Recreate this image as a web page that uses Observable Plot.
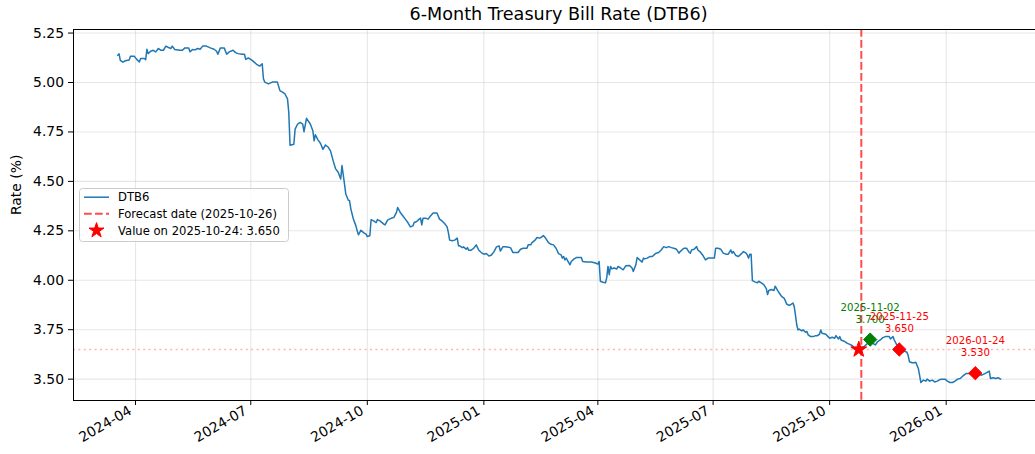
<!DOCTYPE html>
<html>
<head>
<meta charset="utf-8">
<script src="https://cdn.jsdelivr.net/npm/d3@7"></script>
<script src="https://cdn.jsdelivr.net/npm/@observablehq/plot@0.6"></script>
<style>
html, body { margin: 0; padding: 0; background: #fff; overflow: hidden; }
#wrap { position: relative; width: 1035px; height: 454px; font-family: "DejaVu Sans", sans-serif; }
#legend { position: absolute; left: 78.5px; top: 187.5px; }
</style>
</head>
<body>
<div id="wrap"></div>
<script>
// ---------- data ----------
const chartTitle = "6-Month Treasury Bill Rate (DTB6)";
const yLabel = "Rate (%)";
const seriesName = "DTB6";

const dtb6Series = [
["2024-03-18",5.138],["2024-03-19",5.145],["2024-03-20",5.112],["2024-03-22",5.103],["2024-03-24",5.110],
["2024-03-27",5.114],["2024-03-28",5.133],["2024-03-31",5.133],["2024-04-02",5.117],["2024-04-04",5.104],
["2024-04-05",5.121],["2024-04-08",5.121],["2024-04-09",5.115],["2024-04-10",5.168],["2024-04-11",5.146],
["2024-04-13",5.158],["2024-04-15",5.163],["2024-04-17",5.155],["2024-04-19",5.172],["2024-04-21",5.163],
["2024-04-23",5.163],["2024-04-25",5.184],["2024-04-27",5.177],["2024-04-29",5.172],["2024-04-30",5.184],
["2024-05-02",5.167],["2024-05-06",5.163],["2024-05-08",5.163],["2024-05-10",5.175],["2024-05-13",5.175],
["2024-05-14",5.155],["2024-05-16",5.167],["2024-05-18",5.165],["2024-05-20",5.172],["2024-05-22",5.168],
["2024-05-24",5.184],["2024-05-27",5.184],["2024-05-30",5.175],["2024-06-02",5.168],["2024-06-04",5.158],
["2024-06-05",5.143],["2024-06-07",5.175],["2024-06-10",5.175],["2024-06-12",5.143],["2024-06-14",5.155],
["2024-06-17",5.163],["2024-06-19",5.151],["2024-06-21",5.146],["2024-06-24",5.143],["2024-06-26",5.143],
["2024-06-27",5.117],["2024-06-29",5.124],["2024-07-01",5.117],["2024-07-03",5.107],["2024-07-06",5.090],
["2024-07-08",5.083],["2024-07-10",5.095],["2024-07-11",5.019],["2024-07-12",5.002],["2024-07-15",4.993],
["2024-07-18",5.002],["2024-07-20",5.002],["2024-07-22",5.002],["2024-07-24",4.959],["2024-07-26",4.951],
["2024-07-28",4.942],["2024-07-30",4.917],["2024-07-31",4.849],["2024-08-01",4.683],["2024-08-04",4.688],
["2024-08-05",4.764],["2024-08-07",4.790],["2024-08-09",4.798],["2024-08-11",4.790],["2024-08-12",4.751],
["2024-08-14",4.819],["2024-08-17",4.790],["2024-08-19",4.756],["2024-08-20",4.705],["2024-08-21",4.736],
["2024-08-23",4.710],["2024-08-25",4.693],["2024-08-27",4.662],["2024-08-29",4.684],["2024-08-31",4.674],
["2024-09-02",4.653],["2024-09-04",4.605],["2024-09-06",4.563],["2024-09-08",4.546],["2024-09-10",4.512],
["2024-09-11",4.580],["2024-09-13",4.486],["2024-09-14",4.436],["2024-09-16",4.405],["2024-09-17",4.402],
["2024-09-18",4.360],["2024-09-20",4.310],["2024-09-22",4.275],["2024-09-23",4.250],["2024-09-24",4.230],
["2024-09-26",4.253],["2024-09-28",4.241],["2024-09-30",4.233],["2024-10-01",4.221],["2024-10-03",4.225],
["2024-10-04",4.306],["2024-10-06",4.300],["2024-10-08",4.292],["2024-10-09",4.307],["2024-10-11",4.300],
["2024-10-14",4.284],["2024-10-15",4.280],["2024-10-17",4.304],["2024-10-20",4.314],["2024-10-22",4.318],
["2024-10-24",4.343],["2024-10-25",4.368],["2024-10-27",4.343],["2024-10-29",4.326],["2024-10-31",4.309],
["2024-11-02",4.292],["2024-11-04",4.270],["2024-11-06",4.275],["2024-11-07",4.292],["2024-11-09",4.297],
["2024-11-11",4.309],["2024-11-12",4.314],["2024-11-13",4.280],["2024-11-14",4.314],["2024-11-16",4.314],
["2024-11-18",4.309],["2024-11-20",4.326],["2024-11-22",4.340],["2024-11-25",4.340],["2024-11-27",4.309],
["2024-11-29",4.300],["2024-12-01",4.287],["2024-12-03",4.270],["2024-12-04",4.241],["2024-12-05",4.203],
["2024-12-07",4.200],["2024-12-09",4.203],["2024-12-11",4.213],["2024-12-12",4.174],["2024-12-13",4.174],
["2024-12-15",4.165],["2024-12-16",4.169],["2024-12-18",4.157],["2024-12-19",4.165],["2024-12-20",4.152],
["2024-12-22",4.152],["2024-12-24",4.162],["2024-12-26",4.179],["2024-12-28",4.152],["2024-12-30",4.140],
["2025-01-01",4.132],["2025-01-03",4.135],["2025-01-05",4.123],["2025-01-07",4.128],["2025-01-09",4.145],
["2025-01-11",4.169],["2025-01-13",4.174],["2025-01-14",4.148],["2025-01-16",4.169],["2025-01-18",4.169],
["2025-01-22",4.165],["2025-01-24",4.140],["2025-01-26",4.140],["2025-01-28",4.140],["2025-01-30",4.157],
["2025-02-01",4.162],["2025-02-04",4.162],["2025-02-05",4.179],["2025-02-07",4.179],["2025-02-08",4.190],
["2025-02-10",4.200],["2025-02-12",4.216],["2025-02-14",4.213],["2025-02-15",4.216],["2025-02-17",4.226],
["2025-02-19",4.211],["2025-02-21",4.190],["2025-02-23",4.182],["2025-02-25",4.179],["2025-02-27",4.162],
["2025-03-01",4.135],["2025-03-03",4.128],["2025-03-04",4.112],["2025-03-05",4.120],["2025-03-06",4.103],
["2025-03-07",4.112],["2025-03-10",4.078],["2025-03-11",4.095],["2025-03-13",4.107],["2025-03-15",4.115],
["2025-03-17",4.115],["2025-03-19",4.115],["2025-03-20",4.095],["2025-03-23",4.092],["2025-03-27",4.092],
["2025-03-30",4.087],["2025-04-01",4.082],["2025-04-02",4.095],["2025-04-03",3.995],["2025-04-05",3.990],
["2025-04-07",3.987],["2025-04-08",4.012],["2025-04-09",4.070],["2025-04-10",4.028],["2025-04-11",4.070],
["2025-04-12",4.058],["2025-04-14",4.062],["2025-04-16",4.057],["2025-04-17",4.070],["2025-04-19",4.062],
["2025-04-21",4.053],["2025-04-23",4.073],["2025-04-26",4.075],["2025-04-28",4.062],["2025-04-29",4.045],
["2025-05-01",4.078],["2025-05-02",4.115],["2025-05-04",4.103],["2025-05-06",4.092],["2025-05-07",4.112],
["2025-05-08",4.108],["2025-05-10",4.112],["2025-05-12",4.120],["2025-05-14",4.120],["2025-05-16",4.132],
["2025-05-17",4.137],["2025-05-19",4.140],["2025-05-21",4.153],["2025-05-23",4.170],["2025-05-25",4.165],
["2025-05-27",4.170],["2025-05-29",4.165],["2025-05-31",4.162],["2025-06-02",4.157],["2025-06-04",4.137],
["2025-06-05",4.145],["2025-06-07",4.157],["2025-06-08",4.162],["2025-06-10",4.162],["2025-06-12",4.142],
["2025-06-13",4.137],["2025-06-14",4.153],["2025-06-16",4.157],["2025-06-18",4.170],["2025-06-19",4.153],
["2025-06-21",4.142],["2025-06-23",4.125],["2025-06-25",4.103],["2025-06-27",4.112],["2025-06-29",4.112],
["2025-07-02",4.112],["2025-07-03",4.162],["2025-07-05",4.162],["2025-07-07",4.157],["2025-07-09",4.137],
["2025-07-11",4.132],["2025-07-13",4.132],["2025-07-15",4.153],["2025-07-16",4.137],["2025-07-17",4.145],
["2025-07-19",4.125],["2025-07-21",4.120],["2025-07-23",4.132],["2025-07-25",4.145],["2025-07-27",4.137],
["2025-07-28",4.128],["2025-07-29",4.112],["2025-07-30",4.132],["2025-07-31",4.132],["2025-08-01",3.998],
["2025-08-03",3.992],["2025-08-05",3.987],["2025-08-06",3.995],["2025-08-08",3.987],["2025-08-10",3.978],
["2025-08-12",3.958],["2025-08-13",3.928],["2025-08-14",3.948],["2025-08-16",3.953],["2025-08-18",3.948],
["2025-08-19",3.970],["2025-08-21",3.948],["2025-08-23",3.928],["2025-08-24",3.919],["2025-08-26",3.910],
["2025-08-27",3.897],["2025-08-28",3.880],["2025-08-30",3.873],["2025-08-31",3.876],["2025-09-02",3.885],
["2025-09-03",3.868],["2025-09-04",3.825],["2025-09-05",3.775],["2025-09-06",3.749],["2025-09-07",3.753],
["2025-09-09",3.744],["2025-09-10",3.749],["2025-09-12",3.737],["2025-09-13",3.741],["2025-09-14",3.724],
["2025-09-16",3.715],["2025-09-18",3.715],["2025-09-20",3.720],["2025-09-21",3.719],["2025-09-23",3.727],
["2025-09-24",3.749],["2025-09-25",3.732],["2025-09-28",3.727],["2025-09-29",3.720],["2025-10-01",3.707],
["2025-10-03",3.712],["2025-10-05",3.707],["2025-10-06",3.720],["2025-10-08",3.703],["2025-10-09",3.715],
["2025-10-10",3.698],["2025-10-12",3.693],["2025-10-13",3.690],["2025-10-15",3.681],["2025-10-17",3.676],
["2025-10-19",3.669],["2025-10-21",3.656],["2025-10-24",3.650],["2025-10-26",3.660],["2025-10-28",3.664],
["2025-10-31",3.681],["2025-11-02",3.690],["2025-11-06",3.673],["2025-11-08",3.690],["2025-11-10",3.698],
["2025-11-12",3.710],["2025-11-14",3.715],["2025-11-17",3.715],["2025-11-18",3.703],["2025-11-20",3.715],
["2025-11-21",3.698],["2025-11-23",3.673],["2025-11-25",3.652],["2025-11-27",3.636],["2025-11-29",3.642],
["2025-12-01",3.636],["2025-12-02",3.619],["2025-12-03",3.588],["2025-12-05",3.583],["2025-12-07",3.583],
["2025-12-08",3.585],["2025-12-10",3.554],["2025-12-11",3.520],["2025-12-12",3.483],["2025-12-14",3.495],
["2025-12-16",3.490],["2025-12-17",3.500],["2025-12-19",3.490],["2025-12-21",3.495],["2025-12-23",3.486],
["2025-12-25",3.490],["2025-12-27",3.498],["2025-12-29",3.500],["2025-12-31",3.500],["2026-01-02",3.490],
["2026-01-04",3.483],["2026-01-06",3.483],["2026-01-08",3.490],["2026-01-10",3.500],["2026-01-12",3.503],
["2026-01-14",3.515],["2026-01-15",3.520],["2026-01-17",3.529],["2026-01-20",3.529],["2026-01-21",3.537],
["2026-01-24",3.534],["2026-01-27",3.524],["2026-01-29",3.520],["2026-02-01",3.529],["2026-02-03",3.537],
["2026-02-04",3.541],["2026-02-05",3.503],["2026-02-07",3.507],["2026-02-09",3.503],["2026-02-11",3.507],
["2026-02-13",3.500]
];

const forecastDate = "2025-10-26";
const valueDate = "2025-10-24";
const valueOnDate = 3.650;

const forecastDates = ["2025-11-02", "2025-11-25", "2026-01-24"];
const forecastValues = [3.700, 3.650, 3.530];
const forecastColors = ["green", "red", "red"];

const xTickDates = ["2024-04-01","2024-07-01","2024-10-01","2025-01-01","2025-04-01","2025-07-01","2025-10-01","2026-01-01"];
const yTickValues = [3.50, 3.75, 4.00, 4.25, 4.50, 4.75, 5.00, 5.25];
const xDomain = ["2024-02-12T01:00:00Z", "2026-03-18T20:00:00Z"];
const yDomain = [3.392, 5.268];

// ---------- build ----------
const series = dtb6Series.map(([d, v]) => ({date: new Date(d), value: v}));
const forecasts = forecastDates.map((d, i) => ({date: new Date(d), value: forecastValues[i], color: forecastColors[i], label: d}));
const xTicks = xTickDates.map(d => new Date(d));
const font = "'DejaVu Sans', sans-serif";

const chart = Plot.plot({
  width: 1035,
  height: 454,
  marginLeft: 73,
  marginRight: -8,
  marginTop: 29,
  marginBottom: 54,
  style: {fontFamily: font, fontSize: "13.9px", color: "#000", background: "#fff"},
  x: {type: "utc", domain: xDomain.map(d => new Date(d))},
  y: {type: "linear", domain: yDomain},
  color: {type: "identity"},
  marks: [
    Plot.gridX(xTicks, {stroke: "#b0b0b0", strokeOpacity: 0.3, strokeWidth: 1.1}),
    Plot.gridY(yTickValues, {stroke: "#b0b0b0", strokeOpacity: 0.3, strokeWidth: 1.1}),
    Plot.line(series, {x: "date", y: "value", stroke: "#1f77b4", strokeWidth: 1.5}),
    Plot.ruleX([new Date(forecastDate)], {stroke: "red", strokeOpacity: 0.7, strokeWidth: 2, strokeDasharray: "7.7,3.3"}),
    Plot.ruleY([valueOnDate], {stroke: "red", strokeOpacity: 0.3, strokeWidth: 1.6, strokeDasharray: "2,3.4"}),
    Plot.dot([{date: new Date(valueDate), value: valueOnDate}], {x: "date", y: "value", symbol: "star", r: 5, fill: "red", stroke: "red", strokeWidth: 1}),
    Plot.dot(forecasts, {x: "date", y: "value", symbol: "diamond2", r: 6, fill: "color", stroke: "color", strokeWidth: 1}),
    Plot.text(forecasts, {x: "date", y: "value", text: d => `${d.label}\n${d.value.toFixed(3)}`, fill: "color", dy: -17, lineAnchor: "bottom", fontSize: 10.2, lineHeight: 1.18}),
    Plot.frame({stroke: "#000", strokeWidth: 1}),
    Plot.axisY({ticks: yTickValues, tickFormat: d3.format(".2f"), tickSize: 5, tickPadding: 4.5, fontSize: 13.9, label: null}),
    Plot.axisX({ticks: xTicks, tickSize: 5, tickFormat: () => "", label: null}),
    Plot.axisX({ticks: xTicks, tickSize: 0, tickPadding: 9, tickRotate: -30, tickFormat: d3.utcFormat("%Y-%m"), fontSize: 13.9, dx: -5, label: null}),
    Plot.text([chartTitle], {frameAnchor: "top", dy: -15, fontSize: 17.6, lineAnchor: "middle"}),
    Plot.text([yLabel], {frameAnchor: "left", dx: -57, rotate: -90, fontSize: 13.9, lineAnchor: "middle"})
  ]
});

const wrap = document.getElementById("wrap");
wrap.appendChild(chart);

// ---------- legend ----------
const ns = "http://www.w3.org/2000/svg";
const leg = document.createElementNS(ns, "svg");
leg.setAttribute("id", "legend");
leg.setAttribute("width", "211");
leg.setAttribute("height", "55");
function el(tag, attrs, parent) {
  const e = document.createElementNS(ns, tag);
  for (const k in attrs) e.setAttribute(k, attrs[k]);
  (parent || leg).appendChild(e);
  return e;
}
el("rect", {x: 0.5, y: 0.5, width: 209, height: 53, rx: 3, fill: "#fff", "fill-opacity": 0.8, stroke: "#cccccc", "stroke-width": 1});
const rows = [9.2, 25.8, 42.5];
el("line", {x1: 5, x2: 30, y1: rows[0], y2: rows[0], stroke: "#1f77b4", "stroke-width": 1.5});
el("line", {x1: 5, x2: 30, y1: rows[1], y2: rows[1], stroke: "red", "stroke-opacity": 0.7, "stroke-width": 2, "stroke-dasharray": "7.7,3.3"});
const starPath = d3.symbol(d3.symbolStar, 70)();
el("path", {d: starPath, transform: `translate(17.5,${rows[2]})`, fill: "red", stroke: "red", "stroke-width": 1});
const labels = [seriesName, `Forecast date (${forecastDate})`, `Value on ${valueDate}: ${valueOnDate.toFixed(3)}`];
labels.forEach((t, i) => {
  const tx = el("text", {x: 39, y: rows[i], dy: "0.36em", "font-family": font, "font-size": "11.6px", fill: "#000"});
  tx.textContent = t;
});
wrap.appendChild(leg);
</script>
</body>
</html>
